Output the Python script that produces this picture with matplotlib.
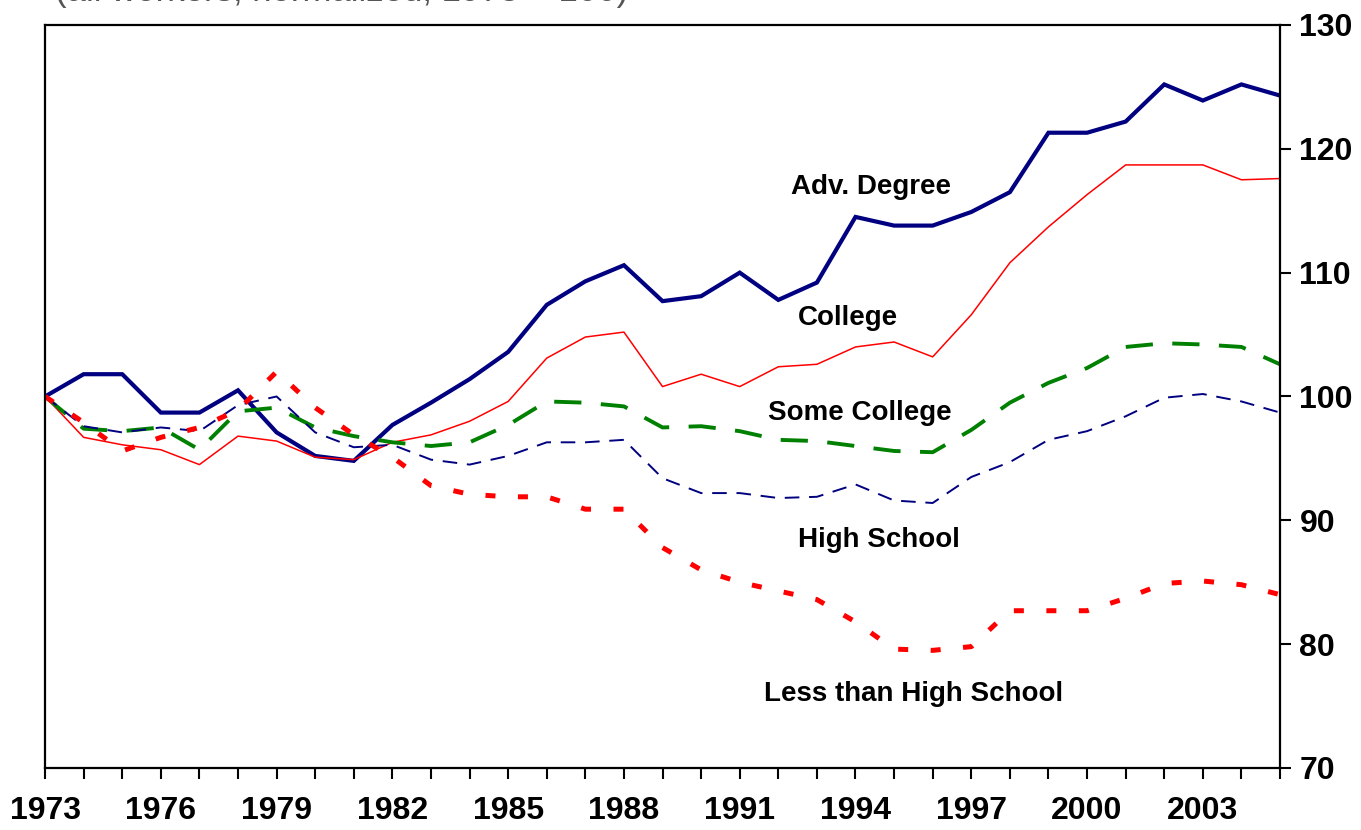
import matplotlib
matplotlib.use("Agg")
import matplotlib.pyplot as plt

# --- data (index, 1973 = 100) ---
years = list(range(1973, 2006))

adv_degree = [100.0, 101.8, 101.8, 98.7, 98.7, 100.5, 97.1, 95.2, 94.8, 97.7,
              99.5, 101.4, 103.6, 107.4, 109.3, 110.6, 107.7, 108.1, 110.0, 107.8,
              109.2, 114.5, 113.8, 113.8, 114.9, 116.5, 121.3, 121.3, 122.2, 125.2,
              123.9, 125.2, 124.3]

college = [100.0, 96.7, 96.1, 95.7, 94.5, 96.8, 96.4, 95.1, 94.9, 96.3,
           96.9, 98.0, 99.6, 103.1, 104.8, 105.2, 100.8, 101.8, 100.8, 102.4,
           102.6, 104.0, 104.4, 103.2, 106.6, 110.8, 113.7, 116.3, 118.7, 118.7,
           118.7, 117.5, 117.6]

some_college = [100.0, 97.4, 97.2, 97.5, 95.7, 98.8, 99.1, 97.5, 96.8, 96.3,
                96.0, 96.3, 97.7, 99.6, 99.5, 99.2, 97.5, 97.6, 97.2, 96.5,
                96.4, 96.0, 95.6, 95.5, 97.3, 99.5, 101.1, 102.3, 104.0, 104.3,
                104.2, 104.0, 102.6]

high_school = [100.0, 97.6, 97.1, 97.5, 97.2, 99.3, 100.0, 97.1, 95.9, 96.1,
               94.9, 94.5, 95.2, 96.3, 96.3, 96.5, 93.4, 92.2, 92.2, 91.8,
               91.9, 92.9, 91.6, 91.4, 93.5, 94.7, 96.5, 97.2, 98.4, 99.9,
               100.2, 99.6, 98.7]

less_than_hs = [100.0, 97.9, 95.6, 96.7, 97.5, 98.9, 102.0, 99.1, 96.9, 95.1,
                92.8, 92.1, 91.9, 91.9, 90.9, 90.9, 87.8, 86.0, 85.0, 84.3,
                83.6, 81.8, 79.6, 79.5, 79.8, 82.7, 82.7, 82.7, 83.7, 84.9,
                85.1, 84.8, 84.0]

series_labels = ["Adv. Degree", "College", "Some College", "High School",
                 "Less than High School"]
label_pos = [(1994.4, 116.9), (1993.8, 106.3), (1994.1, 98.7),
             (1994.6, 88.4), (1995.5, 76.0)]

yticks = [70, 80, 90, 100, 110, 120, 130]

plt.rcParams['font.family'] = ['Liberation Sans', 'DejaVu Sans']

fig = plt.figure(figsize=(13.61, 8.30), dpi=100)
ax = fig.add_axes([0.0331, 0.0747, 0.9074, 0.8952])

ax.plot(years, adv_degree, color='#000080', lw=3.0, solid_joinstyle='miter')
ax.plot(years, college, color='#FF0000', lw=1.1)
ax.plot(years, some_college, color='#008000', lw=2.8, dashes=(7, 5))
ax.plot(years, high_school, color='#000080', lw=1.4, dashes=(7.5, 5))
ax.plot(years, less_than_hs, color='#FF0000', lw=3.6, dashes=(2, 4.5),
        dash_capstyle='butt')

for lab, (lx, ly) in zip(series_labels, label_pos):
    ax.text(lx, ly, lab, ha='center', va='center', fontsize=20,
            fontweight='bold', color='black')

ax.set_xlim(1973, 2005)
ax.set_ylim(70, 130)

ax.set_xticks(years)
ax.set_xticklabels([str(y) if (y - 1973) % 3 == 0 else '' for y in years],
                   fontsize=23, fontweight='bold')
ax.set_yticks(yticks)
ax.set_yticklabels([str(v) for v in yticks], fontsize=23, fontweight='bold')

ax.yaxis.tick_right()
ax.tick_params(axis='x', direction='out', length=8, width=1.5, pad=12)
ax.tick_params(axis='y', direction='out', length=8, width=1.5, pad=6)

for sp in ax.spines.values():
    sp.set_linewidth(1.6)
    sp.set_color('black')

# subtitle sits mostly above the top edge, as in the source image
fig.text(55 / 1361, 1 - 1 / 830, "(all workers, normalized, 1973 = 100)",
         fontsize=25, color='#555555', ha='left', va='baseline')

fig.savefig("out.png", dpi=100)
plt.close(fig)
